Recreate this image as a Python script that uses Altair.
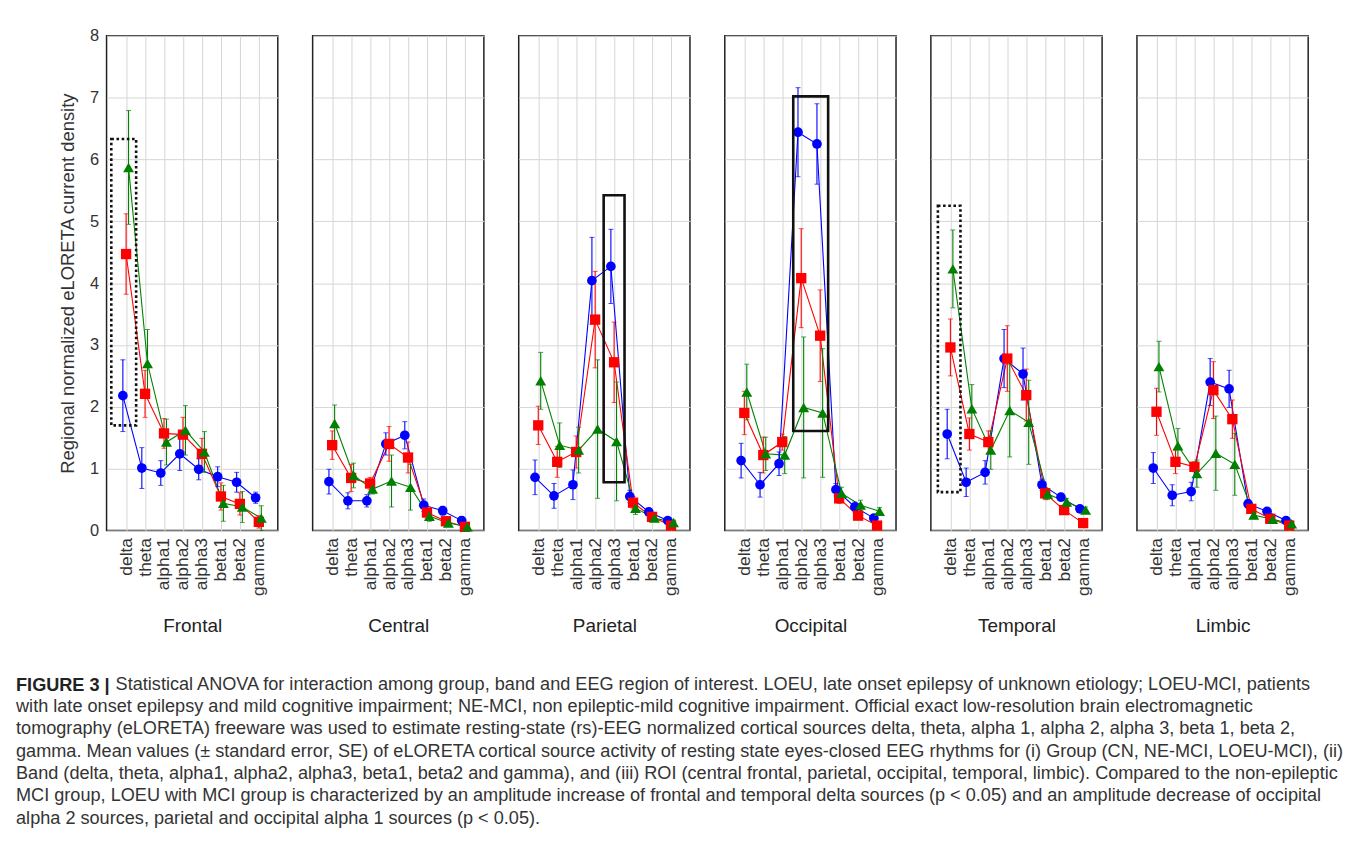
import altair as alt
import pandas as pd

BANDS = ["delta", "theta", "alpha1", "alpha2", "alpha3", "beta1", "beta2", "gamma"]
REGIONS = ["Frontal", "Central", "Parietal", "Occipital", "Temporal", "Limbic"]
GROUPS = ["CN", "NE-MCI", "LOEU-MCI"]
COLORS = ["#0000ff", "#ff0000", "#008000"]
SHAPES = ["circle", "square", "triangle-up"]
SIZES = [95, 120, 115]
OFFSETS = [-0.17, 0.0, 0.13]

# means and standard errors, per region, per group (CN, NE-MCI, LOEU-MCI)
frontal_cn = [2.18, 1.01, 0.93, 1.24, 0.99, 0.87, 0.78, 0.53]
frontal_cn_se = [0.58, 0.33, 0.20, 0.27, 0.17, 0.16, 0.16, 0.09]
frontal_ne = [4.47, 2.21, 1.57, 1.55, 1.24, 0.55, 0.43, 0.14]
frontal_ne_se = [0.65, 0.38, 0.24, 0.28, 0.25, 0.22, 0.18, 0.10]
frontal_lo = [5.87, 2.70, 1.43, 1.62, 1.27, 0.44, 0.38, 0.20]
frontal_lo_se = [0.92, 0.55, 0.37, 0.40, 0.33, 0.29, 0.25, 0.20]

central_cn = [0.79, 0.48, 0.48, 1.40, 1.54, 0.41, 0.32, 0.16]
central_cn_se = [0.20, 0.13, 0.10, 0.18, 0.22, 0.10, 0.07, 0.06]
central_ne = [1.38, 0.85, 0.76, 1.40, 1.18, 0.29, 0.15, 0.06]
central_ne_se = [0.23, 0.22, 0.10, 0.28, 0.25, 0.10, 0.07, 0.04]
central_lo = [1.73, 0.89, 0.67, 0.80, 0.70, 0.23, 0.12, 0.06]
central_lo_se = [0.30, 0.20, 0.08, 0.42, 0.37, 0.08, 0.05, 0.03]

parietal_cn = [0.86, 0.56, 0.74, 4.04, 4.27, 0.55, 0.30, 0.16]
parietal_cn_se = [0.28, 0.20, 0.24, 0.70, 0.60, 0.10, 0.05, 0.04]
parietal_ne = [1.70, 1.11, 1.27, 3.41, 2.72, 0.45, 0.22, 0.08]
parietal_ne_se = [0.31, 0.25, 0.26, 0.78, 0.65, 0.10, 0.06, 0.04]
parietal_lo = [2.42, 1.38, 1.30, 1.64, 1.44, 0.36, 0.20, 0.13]
parietal_lo_se = [0.46, 0.36, 0.37, 1.12, 0.96, 0.10, 0.05, 0.04]

occipital_cn = [1.13, 0.74, 1.08, 6.44, 6.25, 0.66, 0.38, 0.20]
occipital_cn_se = [0.28, 0.20, 0.19, 0.72, 0.65, 0.10, 0.08, 0.05]
occipital_ne = [1.90, 1.22, 1.43, 4.08, 3.15, 0.52, 0.24, 0.08]
occipital_ne_se = [0.35, 0.29, 0.13, 0.80, 0.74, 0.08, 0.06, 0.04]
occipital_lo = [2.24, 1.24, 1.22, 1.99, 1.90, 0.60, 0.41, 0.31]
occipital_lo_se = [0.45, 0.27, 0.30, 1.14, 1.04, 0.10, 0.08, 0.06]

temporal_cn = [1.56, 0.78, 0.94, 2.78, 2.53, 0.74, 0.54, 0.35]
temporal_cn_se = [0.40, 0.23, 0.19, 0.47, 0.42, 0.09, 0.06, 0.05]
temporal_ne = [2.96, 1.56, 1.43, 2.78, 2.19, 0.60, 0.33, 0.12]
temporal_ne_se = [0.46, 0.26, 0.18, 0.53, 0.42, 0.10, 0.07, 0.05]
temporal_lo = [4.23, 1.97, 1.30, 1.94, 1.75, 0.59, 0.46, 0.33]
temporal_lo_se = [0.63, 0.39, 0.31, 0.75, 0.68, 0.09, 0.06, 0.05]

limbic_cn = [1.01, 0.57, 0.63, 2.40, 2.29, 0.43, 0.31, 0.16]
limbic_cn_se = [0.25, 0.17, 0.15, 0.38, 0.30, 0.07, 0.05, 0.04]
limbic_ne = [1.92, 1.11, 1.03, 2.27, 1.80, 0.35, 0.19, 0.08]
limbic_ne_se = [0.38, 0.19, 0.08, 0.46, 0.31, 0.06, 0.04, 0.03]
limbic_lo = [2.65, 1.37, 0.92, 1.25, 1.07, 0.25, 0.18, 0.11]
limbic_lo_se = [0.41, 0.28, 0.22, 0.60, 0.50, 0.06, 0.04, 0.03]

SERIES = {
    "Frontal": [(frontal_cn, frontal_cn_se), (frontal_ne, frontal_ne_se), (frontal_lo, frontal_lo_se)],
    "Central": [(central_cn, central_cn_se), (central_ne, central_ne_se), (central_lo, central_lo_se)],
    "Parietal": [(parietal_cn, parietal_cn_se), (parietal_ne, parietal_ne_se), (parietal_lo, parietal_lo_se)],
    "Occipital": [(occipital_cn, occipital_cn_se), (occipital_ne, occipital_ne_se), (occipital_lo, occipital_lo_se)],
    "Temporal": [(temporal_cn, temporal_cn_se), (temporal_ne, temporal_ne_se), (temporal_lo, temporal_lo_se)],
    "Limbic": [(limbic_cn, limbic_cn_se), (limbic_ne, limbic_ne_se), (limbic_lo, limbic_lo_se)],
}

# highlight boxes (band-index units, value units)
BOX_REGION = ["Frontal", "Parietal", "Occipital", "Temporal"]
BOX_X0 = [-0.78, 3.45, 2.58, -0.66]
BOX_X1 = [0.53, 4.55, 4.42, 0.53]
BOX_Y0 = [1.70, 0.78, 1.61, 0.62]
BOX_Y1 = [6.33, 5.42, 7.02, 5.25]
BOX_DOTTED = [True, False, False, True]

CAPTION_BOLD = "FIGURE 3 |"
CAPTION_LINES = [
    "Statistical ANOVA for interaction among group, band and EEG region of interest. LOEU, late onset epilepsy of unknown etiology; LOEU-MCI, patients",
    "with late onset epilepsy and mild cognitive impairment; NE-MCI, non epileptic-mild cognitive impairment. Official exact low-resolution brain electromagnetic",
    "tomography (eLORETA) freeware was used to estimate resting-state (rs)-EEG normalized cortical sources delta, theta, alpha 1, alpha 2, alpha 3, beta 1, beta 2,",
    "gamma. Mean values (\u00b1 standard error, SE) of eLORETA cortical source activity of resting state eyes-closed EEG rhythms for (i) Group (CN, NE-MCI, LOEU-MCI), (ii)",
    "Band (delta, theta, alpha1, alpha2, alpha3, beta1, beta2 and gamma), and (iii) ROI (central frontal, parietal, occipital, temporal, limbic). Compared to the non-epileptic",
    "MCI group, LOEU with MCI group is characterized by an amplitude increase of frontal and temporal delta sources (p < 0.05) and an amplitude decrease of occipital",
    "alpha 2 sources, parietal and occipital alpha 1 sources (p < 0.05).",
]

FONT = "Liberation Sans"
TXT = "#333333"
CAP_FS = 18.2
CAP_LH = 22.4

rows = []
for region in REGIONS:
    for gi, (means, ses) in enumerate(SERIES[region]):
        for bi, (m, s) in enumerate(zip(means, ses)):
            rows.append({
                "region": region, "group": GROUPS[gi], "gi": gi,
                "band": BANDS[bi], "x": bi + OFFSETS[gi],
                "mean": m, "lo": max(m - s, 0), "hi": m + s,
            })
df = pd.DataFrame(rows)

boxes = pd.DataFrame({
    "region": BOX_REGION, "x0": BOX_X0, "x1": BOX_X1,
    "y0": BOX_Y0, "y1": BOX_Y1, "dotted": BOX_DOTTED,
})

label_expr = "[" + ",".join("'%s'" % b for b in BANDS) + "][datum.value]"
XSCALE = alt.Scale(domain=[-1.03, 8.0], nice=False, zero=False)
YSCALE = alt.Scale(domain=[0, 8], nice=False)
GRID = "#d6d6d6"


def panel(region, first):
    d = df[df.region == region]
    xaxis = alt.Axis(values=list(range(8)), labelExpr=label_expr, labelAngle=270,
                     labelFontSize=17.5, labelColor=TXT, labelPadding=7,
                     labelOverlap=False, labelSeparation=0, labelBound=False,
                     ticks=False, domain=False, grid=True, gridColor=GRID,
                     title=region, titleFontSize=19, titleFontWeight="normal",
                     titleColor="#222222", titlePadding=21)
    if first:
        yaxis = alt.Axis(values=list(range(9)), format="d", labelFontSize=16.5, labelColor=TXT,
                         labelPadding=8, ticks=False, domain=False, grid=True,
                         gridColor=GRID, title="Regional normalized eLORETA current density",
                         titleFontSize=18.5, titleFontWeight="normal", titleColor=TXT,
                         titlePadding=12)
    else:
        yaxis = alt.Axis(values=list(range(9)), labels=False, ticks=False, domain=False,
                         grid=True, gridColor=GRID, title="")
    X = alt.X("x:Q", scale=XSCALE, axis=xaxis)
    Ym = alt.Y("mean:Q", scale=YSCALE, axis=yaxis)
    color = alt.Color("group:N", scale=alt.Scale(domain=GROUPS, range=COLORS), legend=None)
    base = alt.Chart(d)
    lines = base.mark_line(strokeWidth=1.1).encode(x=X, y=Ym, color=color, order="x:Q")
    bars = base.mark_rule(strokeWidth=1.1).encode(
        x=X, y=alt.Y("lo:Q", scale=YSCALE, axis=yaxis), y2="hi:Q", color=color)
    cap_lo = base.mark_tick(orient="horizontal", size=5, thickness=1).encode(
        x=X, y=alt.Y("lo:Q", scale=YSCALE, axis=yaxis), color=color)
    cap_hi = base.mark_tick(orient="horizontal", size=5, thickness=1).encode(
        x=X, y=alt.Y("hi:Q", scale=YSCALE, axis=yaxis), color=color)
    pts = base.mark_point(filled=True, opacity=1).encode(
        x=X, y=Ym, color=color,
        shape=alt.Shape("group:N", scale=alt.Scale(domain=GROUPS, range=SHAPES), legend=None),
        size=alt.Size("group:N", scale=alt.Scale(domain=GROUPS, range=SIZES), legend=None),
        order="gi:Q")
    layers = [lines, bars, cap_lo, cap_hi, pts]
    b = boxes[boxes.region == region]
    if len(b):
        dotted = bool(b.dotted.iloc[0])
        kw = dict(fillOpacity=0, stroke="#111111", strokeWidth=2.6)
        if dotted:
            kw["strokeDash"] = [2.6, 2.6]
        layers.append(alt.Chart(b).mark_rect(**kw).encode(
            x=alt.X("x0:Q", scale=XSCALE, axis=xaxis), x2="x1:Q",
            y=alt.Y("y0:Q", scale=YSCALE, axis=yaxis), y2="y1:Q"))
    return alt.layer(*layers).properties(
        width=172, height=497,
        view=alt.ViewBackground(stroke="#222222", strokeWidth=1.5))


# caption: bold label, rest of first line, then remaining lines
row = alt.hconcat(*[panel(r, i == 0) for i, r in enumerate(REGIONS)], spacing=33).properties(
    title=alt.TitleParams(text=CAPTION_BOLD, orient="bottom", anchor="start", baseline="top",
                          dx=-42, offset=41, font=FONT, fontSize=CAP_FS, fontWeight="bold",
                          color="#222222"))
mid = alt.vconcat(row).properties(
    title=alt.TitleParams(text=CAPTION_LINES[0], orient="bottom", anchor="start", baseline="top",
                          dx=100, offset=-CAP_FS, font=FONT, fontSize=CAP_FS,
                          fontWeight="normal", color=TXT))
chart = alt.vconcat(mid).properties(
    title=alt.TitleParams(text=CAPTION_LINES[1:], orient="bottom", anchor="start", baseline="top",
                          dx=0, offset=CAP_LH - CAP_FS, lineHeight=CAP_LH, font=FONT,
                          fontSize=CAP_FS, fontWeight="normal", color=TXT),
    padding={"left": 8, "top": 17, "right": 5, "bottom": 5},
).configure(font=FONT).configure_view(stroke="transparent")

chart.save("out.html", embed_options={"renderer": "svg", "actions": False})
